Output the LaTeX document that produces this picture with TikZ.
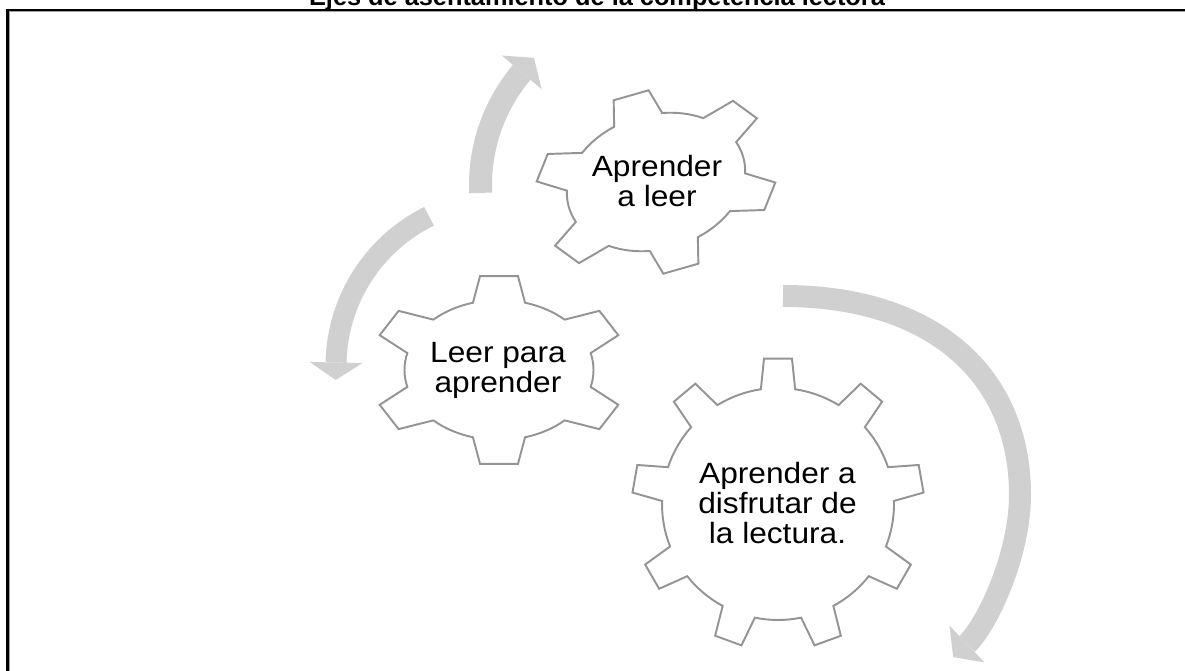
\documentclass[tikz,border=0pt]{standalone}
\usepackage{fontspec}
\setmainfont{Liberation Sans}
\newfontfamily\gearfont[FakeStretch=1.08]{Liberation Sans}
\usetikzlibrary{calc}
\definecolor{arrowgray}{RGB}{208,208,208}
\definecolor{gearedge}{RGB}{148,148,148}
\definecolor{frameshade}{RGB}{160,160,160}
% #1 teeth, #2 first tooth angle, #3 body radius, #4 tip radius, #5 half base angle, #6 half tip angle
\newcommand{\gearshape}[6]{%
  \draw[gearline] ({#2-#5}:#3)
    \foreach \i [evaluate=\i as \t using {#2+360/#1*(\i-1)}] in {1,...,#1}{
      -- ({\t-#6}:#4) -- ({\t+#6}:#4) -- ({\t+#5}:#3)
      arc[start angle={\t+#5}, end angle={\t+360/#1-#5}, radius=#3]
    } -- cycle;}
\begin{document}
\begin{tikzpicture}[x=0.75pt,y=0.75pt,
  gearline/.style={draw=gearedge, line width=1.45pt, fill=white, line join=miter},
  shaft/.style={draw=arrowgray, line cap=butt},
  headfill/.style={fill=arrowgray},
  geartext/.style={align=center, font=\gearfont\fontsize{22}{22.6}\selectfont, inner sep=0pt}
]
\useasboundingbox (0,0) rectangle (1185,671);
\clip (0,0) rectangle (1185,671);
\fill[white] (0,0) rectangle (1185,671);

% title (cut by the top edge)
\node[font=\bfseries\fontsize{19}{22}\selectfont, anchor=base, inner sep=0pt] (title) at (597,665) {Ejes de asentamiento de la competencia lectora};

% frame
\draw[frameshade, line width=0.75pt] (9.8,0) -- (9.8,659.2) -- (1185,659.2);
\draw[black, line width=1.95pt] (7.7,0) -- (7.7,661) -- (1185,661);

% arrow A (around gear 1)
\coordinate (cA) at (655,486);
\coordinate (aTail) at ($(cA)+(182.6:174.5)$);
\coordinate (aBase) at ($(cA)+(139.8:174.5)$);
\draw[shaft, line width=17.25pt] (aTail) arc[start angle=182.6, end angle=139.8, radius=174.5];
\fill[headfill] ($(cA)+(139.8:200.5)$) -- ($(aBase)+(49.8:19)$) -- ($(cA)+(139.8:148.5)$) -- cycle;

% arrow B (around gear 2)
\coordinate (cB) at (503,305);
\coordinate (bTail) at ($(cB)+(116.3:167)$);
\coordinate (bBase) at ($(cB)+(178.8:167)$);
\draw[shaft, line width=15.75pt] (bTail) arc[start angle=116.3, end angle=178.8, radius=167];
\fill[headfill] ($(cB)+(178.8:193.5)$) -- ($(bBase)+(268.8:17.5)$) -- ($(cB)+(178.8:140.5)$) -- cycle;

% arrow C (around gear 3)
\coordinate (cTail) at (783,375);
\coordinate (cRight) at (1020,176);
\coordinate (cBase) at (967,27);
\draw[shaft, line width=16.5pt] (cTail) .. controls (933,375) and (1020,296) .. (cRight) .. controls (1020,116) and (987,46) .. (cBase);
\fill[headfill] (984.6,8.5) -- (953.2,13.9) -- (949.4,45.5) -- cycle;

% gears
\begin{scope}[shift={(656,489)}, rotate=16, scale=0.96, xscale=1.35]
  \gearshape{6}{90}{70}{95}{16}{8.5}
\end{scope}
\begin{scope}[shift={(499,301)}, xscale=1.35]
  \gearshape{6}{90}{70}{95}{16}{8.5}
\end{scope}
\begin{scope}[shift={(778,167)}]
  \gearshape{9}{90}{116}{146}{8.5}{5.5}
\end{scope}

% texts
\node[geartext] (t1) at (657,490) {Aprender\\a leer};
\node[geartext] (t2) at (498,300.3) {Leer para\\aprender};
\node[geartext] (t3) at (777.5,168.1) {Aprender a\\disfrutar de\\la lectura.};
\end{tikzpicture}
\end{document}
